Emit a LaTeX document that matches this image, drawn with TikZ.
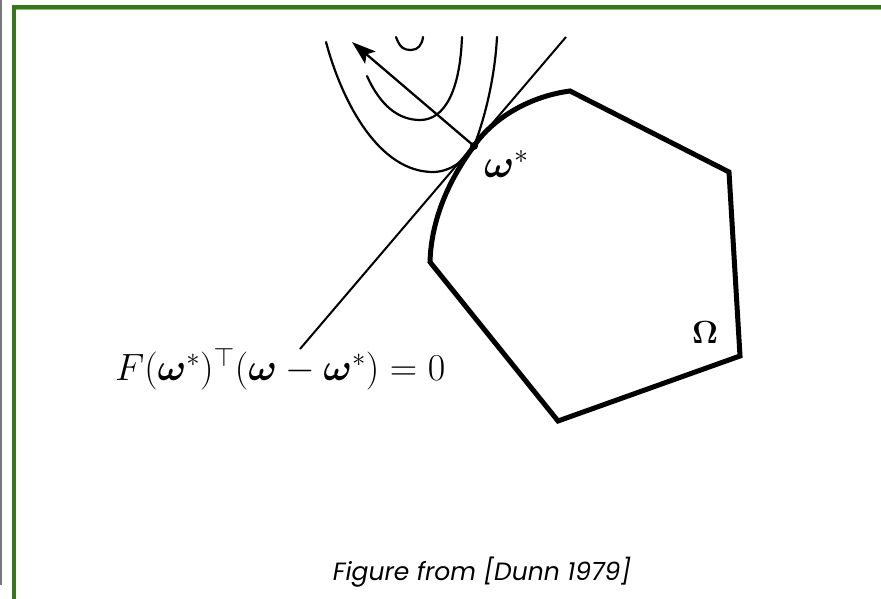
\RequirePackage{fix-cm}
\documentclass[tikz,border=0pt]{standalone}
\usepackage{amsmath,bm}
\usepackage{fontspec}
\newfontfamily\capfont{Poppins}
\usetikzlibrary{arrows.meta}
\definecolor{framegreen}{RGB}{56,118,29}
\definecolor{framelight}{RGB}{140,190,110}
\definecolor{edgegrey}{RGB}{120,120,120}
\tikzset{
  thinline/.style={line width=2.2pt, line cap=round},
  setline/.style={line width=5pt, line join=miter},
  lbl/.style={inner sep=0pt, outer sep=0pt},
}
\begin{document}
\begin{tikzpicture}[x=1pt,y=-1pt]
\useasboundingbox (0,0) rectangle (881,599);
% frame
\draw[edgegrey, line width=1.5pt] (0.75,0) -- (0.75,585);
\draw[framelight, line width=1.2pt] (16,9.8) -- (881,9.8);
\draw[framegreen, line width=4pt] (12,7) -- (881,7);
\draw[framegreen, line width=4pt] (14,5) -- (14,599);
% key points
\coordinate (W) at (474,146);
\coordinate (L1) at (300,349);
\coordinate (L2) at (566,37);
\coordinate (A) at (352,42);
% set Omega
\draw[setline] (W) .. controls (490,122) and (525,97) .. (570,91)
  -- (729,172) -- (740,356) -- (558,421) -- (430,262)
  .. controls (431,225) and (445,185) .. (W);
% tangent line
\draw[line width=2pt] (L1) -- (L2);
% level curves
\draw[thinline] (326,42) .. controls (343,105) and (380,172) .. (433,172)
  .. controls (450,172) and (466,160) .. (W)
  .. controls (486,115) and (495,75) .. (497,37);
\draw[thinline] (367,76) .. controls (380,105) and (398,120) .. (420,120)
  .. controls (445,120) and (460,90) .. (462,37);
\draw[thinline] (396,37) .. controls (400,48) and (404,50) .. (411,50)
  .. controls (418,50) and (422,45) .. (423,37);
% arrow
\draw[line width=2.3pt, -{Stealth[length=24pt, width=16pt, inset=5pt]}] (W) -- (A);
\fill (W) circle (4pt);
% labels
\node[lbl, anchor=base west] (ws) at (484,178) {\fontsize{40}{46}\selectfont $\bm{\omega}^*$};
\node[lbl, anchor=base] (om) at (705,343) {\fontsize{32}{38}\selectfont $\bm{\Omega}$};
\node[lbl, anchor=base west] (eq) at (115,380) {\fontsize{38}{44}\selectfont $F(\bm{\omega}^*)^\top(\bm{\omega}-\bm{\omega}^*)=0$};
\node[lbl, anchor=base] (cap) at (482,580) {\capfont\itshape\fontsize{25}{30}\selectfont Figure from [Dunn 1979]};
\end{tikzpicture}
\end{document}
